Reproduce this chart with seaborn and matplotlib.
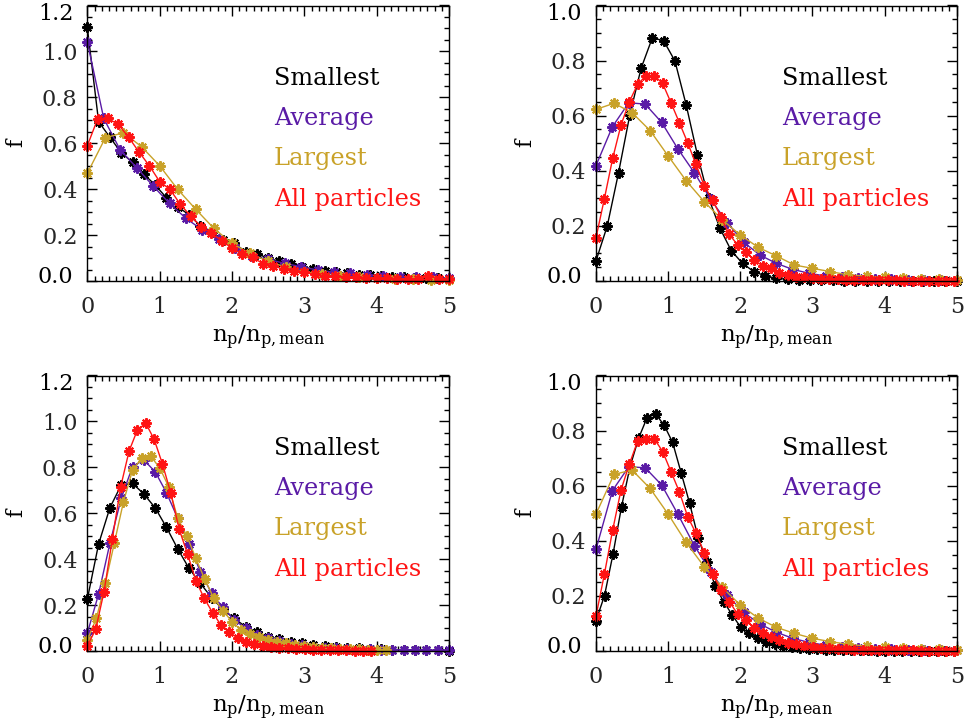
import numpy as np
import pandas as pd
import matplotlib
matplotlib.use("Agg")
import matplotlib.pyplot as plt
import matplotlib.transforms as mtransforms
import seaborn as sns
from matplotlib.ticker import MultipleLocator, FormatStrFormatter, FuncFormatter

sns.set_theme(style="ticks")
plt.rcParams["font.family"] = ["DejaVu Serif"]
plt.rcParams["mathtext.fontset"] = "dejavuserif"

series_names = ["Smallest", "Average", "Largest", "All particles"]
series_colors = ["#000000", "#5a1ba6", "#c9a229", "#ff1414"]

# ---- top-left panel ----
p1_dx = [0.15625, 0.2273, 0.25, 0.1429]
p1_smallest = [1.105, 0.694, 0.626, 0.559, 0.517, 0.466, 0.418, 0.363, 0.324, 0.288, 0.241,
               0.215, 0.179, 0.164, 0.128, 0.118, 0.100, 0.085, 0.074, 0.062, 0.052, 0.045,
               0.038, 0.033, 0.028, 0.025, 0.022, 0.018, 0.016, 0.014, 0.012, 0.011, 0.010]
p1_average = [1.042, 0.708, 0.571, 0.494, 0.414, 0.338, 0.273, 0.222, 0.181, 0.142, 0.109,
              0.094, 0.077, 0.062, 0.048, 0.038, 0.033, 0.026, 0.022, 0.019, 0.016, 0.016, 0.012]
p1_largest = [0.469, 0.624, 0.646, 0.585, 0.502, 0.399, 0.312, 0.229, 0.164, 0.120, 0.085,
              0.060, 0.040, 0.030, 0.020, 0.016, 0.012, 0.010, 0.007, 0.006, 0.005]
p1_all = [0.589, 0.706, 0.708, 0.682, 0.626, 0.562, 0.502, 0.433, 0.399, 0.334, 0.283, 0.237,
          0.208, 0.176, 0.142, 0.118, 0.103, 0.075, 0.066, 0.051, 0.044, 0.038, 0.029, 0.022,
          0.022, 0.019, 0.016, 0.015, 0.012, 0.012, 0.009, 0.007, 0.009, 0.022, 0.010, 0.008]

# ---- top-right panel ----
p2_dx = [0.15625, 0.2273, 0.25, 0.1155]
p2_smallest = [0.073, 0.200, 0.393, 0.603, 0.772, 0.883, 0.872, 0.799, 0.639, 0.457, 0.300,
               0.191, 0.110, 0.064, 0.034, 0.019, 0.010, 0.006, 0.004, 0.003, 0.002, 0.002,
               0.001, 0.001, 0.001, 0.001, 0.0, 0.0, 0.0, 0.0, 0.0, 0.0, 0.0]
p2_average = [0.419, 0.560, 0.647, 0.642, 0.576, 0.479, 0.393, 0.296, 0.212, 0.141, 0.094,
              0.064, 0.042, 0.028, 0.018, 0.013, 0.010, 0.008, 0.006, 0.005, 0.004, 0.003, 0.003]
p2_largest = [0.623, 0.645, 0.611, 0.546, 0.454, 0.364, 0.288, 0.222, 0.167, 0.122, 0.091,
              0.058, 0.046, 0.034, 0.022, 0.018, 0.013, 0.011, 0.009, 0.007, 0.005]
p2_all = [0.157, 0.298, 0.445, 0.566, 0.651, 0.714, 0.745, 0.745, 0.717, 0.647, 0.575, 0.502,
          0.423, 0.345, 0.294, 0.231, 0.169, 0.131, 0.104, 0.077, 0.054, 0.046, 0.030, 0.022,
          0.016, 0.013, 0.010, 0.008, 0.007, 0.006, 0.005, 0.004, 0.003, 0.003, 0.002, 0.002,
          0.002, 0.001, 0.001, 0.001, 0.001, 0.001, 0.0, 0.0]

# ---- bottom-left panel ----
p3_dx = [0.15625, 0.15625, 0.125, 0.1155]
p3_smallest = [0.225, 0.466, 0.624, 0.723, 0.730, 0.684, 0.624, 0.539, 0.445, 0.360, 0.295,
               0.232, 0.181, 0.142, 0.106, 0.081, 0.062, 0.052, 0.041, 0.033, 0.026, 0.023,
               0.019, 0.015, 0.012, 0.010, 0.008, 0.006, 0.005, 0.004, 0.003, 0.003, 0.002]
p3_average = [0.077, 0.248, 0.469, 0.665, 0.803, 0.832, 0.781, 0.690, 0.578, 0.466, 0.346,
              0.251, 0.190, 0.135, 0.099, 0.070, 0.055, 0.042, 0.032, 0.025, 0.019, 0.015,
              0.012, 0.010, 0.008, 0.007, 0.006, 0.005, 0.005, 0.004, 0.004, 0.003, 0.003]
p3_largest = [0.048, 0.142, 0.295, 0.472, 0.650, 0.788, 0.839, 0.849, 0.798, 0.716, 0.578,
              0.502, 0.404, 0.312, 0.229, 0.176, 0.128, 0.091, 0.075, 0.062, 0.050, 0.040,
              0.035, 0.028, 0.022, 0.018, 0.015, 0.012, 0.010, 0.008, 0.007, 0.006, 0.005, 0.004]
p3_all = [0.022, 0.094, 0.258, 0.488, 0.716, 0.871, 0.963, 0.992, 0.922, 0.814, 0.687, 0.530,
          0.422, 0.306, 0.229, 0.167, 0.113, 0.084, 0.055, 0.041, 0.029, 0.022, 0.018, 0.014,
          0.011, 0.009, 0.007, 0.006, 0.005, 0.004, 0.003, 0.003, 0.002, 0.002, 0.002]

# ---- bottom-right panel ----
p4_dx = [0.118, 0.2273, 0.25, 0.1155]
p4_smallest = [0.110, 0.201, 0.352, 0.524, 0.669, 0.772, 0.847, 0.860, 0.820, 0.757, 0.647,
               0.536, 0.411, 0.324, 0.236, 0.179, 0.131, 0.086, 0.064, 0.046, 0.034, 0.025,
               0.018, 0.014, 0.011, 0.008, 0.006, 0.005, 0.004, 0.003, 0.003, 0.002, 0.002,
               0.001, 0.001, 0.001, 0.001, 0.001, 0.0, 0.0, 0.0, 0.0, 0.0]
p4_average = [0.369, 0.582, 0.669, 0.665, 0.603, 0.496, 0.382, 0.288, 0.203, 0.140, 0.098,
              0.068, 0.046, 0.031, 0.021, 0.015, 0.011, 0.008, 0.006, 0.005, 0.004, 0.003, 0.003]
p4_largest = [0.497, 0.641, 0.657, 0.590, 0.497, 0.394, 0.306, 0.231, 0.167, 0.119, 0.086,
              0.064, 0.046, 0.034, 0.024, 0.018, 0.013, 0.010, 0.008, 0.006, 0.005]
p4_all = [0.127, 0.278, 0.439, 0.584, 0.678, 0.762, 0.770, 0.770, 0.724, 0.651, 0.578, 0.488,
          0.427, 0.357, 0.279, 0.221, 0.179, 0.134, 0.113, 0.082, 0.064, 0.052, 0.040, 0.030,
          0.024, 0.019, 0.015, 0.012, 0.010, 0.008, 0.006, 0.005, 0.004, 0.004, 0.003, 0.003,
          0.002, 0.002, 0.002, 0.001, 0.001, 0.001, 0.001, 0.001]

panels = [
    (p1_dx, [p1_smallest, p1_average, p1_largest, p1_all], 1.2),
    (p2_dx, [p2_smallest, p2_average, p2_largest, p2_all], 1.0),
    (p3_dx, [p3_smallest, p3_average, p3_largest, p3_all], 1.2),
    (p4_dx, [p4_smallest, p4_average, p4_largest, p4_all], 1.0),
]

W, H = 969, 724
fig = plt.figure(figsize=(W / 100, H / 100), dpi=100)
fig.patch.set_facecolor("white")

# axes boxes in pixels: left, top, right, bottom
boxes = [(87.3, 5.5, 449.0, 281.0), (596.0, 5.5, 956.7, 281.0),
         (87.3, 375.5, 449.0, 651.0), (596.0, 375.5, 956.7, 651.0)]

legend_y = [0.713, 0.567, 0.421, 0.272]
TICK_FS = 16

for (dx, ys, ymax), (l, t, r, b) in zip(panels, boxes):
    ax = fig.add_axes([l / W, 1 - b / H, (r - l) / W, (b - t) / H])
    ax.set_facecolor("white")
    for name, color, step, vals in zip(series_names, series_colors, dx, ys):
        df = pd.DataFrame({"x": step * np.arange(len(vals)), "f": vals})
        sns.lineplot(data=df, x="x", y="f", ax=ax, color=color, lw=1.0,
                     marker=(8, 2, 0), markersize=7.5, markeredgewidth=1.5,
                     markeredgecolor=color, markerfacecolor=color,
                     estimator=None, sort=False, legend=False, clip_on=False)
    ax.set_xlim(0, 5)
    ax.set_ylim(0, ymax)
    ax.xaxis.set_major_locator(MultipleLocator(1))
    ax.xaxis.set_minor_locator(MultipleLocator(0.1))
    ax.yaxis.set_major_locator(MultipleLocator(0.2))
    ax.yaxis.set_minor_locator(MultipleLocator(0.05))
    ax.xaxis.set_major_formatter(FormatStrFormatter("%d"))

    # end labels of the y axis are nudged inside the frame below
    def ylab(v, pos, top=ymax):
        if abs(v) < 1e-9 or abs(v - top) < 1e-9:
            return ""
        return f"{v:.1f}"
    ax.yaxis.set_major_formatter(FuncFormatter(ylab))

    ax.tick_params(which="both", direction="in", top=True, right=True,
                   width=1.0, color="black")
    ax.tick_params(which="major", length=7)
    ax.tick_params(which="minor", length=3.5)
    ax.tick_params(axis="x", which="major", labelsize=TICK_FS, pad=11)
    ax.tick_params(axis="y", which="major", labelsize=TICK_FS, pad=7)
    for s in ax.spines.values():
        s.set_color("black")
        s.set_linewidth(1.0)

    ax.text(0, 0, "0.0", transform=mtransforms.offset_copy(
        ax.transAxes, fig=fig, x=-14, y=4, units="dots"),
        ha="right", va="center", fontsize=TICK_FS, color="black")
    ax.text(0, 1, f"{ymax:.1f}", transform=mtransforms.offset_copy(
        ax.transAxes, fig=fig, x=-14, y=-9, units="dots"),
        ha="right", va="center", fontsize=TICK_FS, color="black")

    ax.set_xlabel(r"$\mathregular{n_p/n_{p,mean}}$", fontsize=16.5, color="black")
    ax.set_ylabel("f", fontsize=16, color="black")
    ax.xaxis.set_label_coords(0.5, -0.155)
    ax.yaxis.set_label_coords(-0.165, 0.5)
    for name, color, yy in zip(series_names, series_colors, legend_y):
        ax.text(0.516, yy, name, transform=ax.transAxes, color=color,
                fontsize=17.3, ha="left", va="baseline")

fig.savefig("out.png", dpi=100, facecolor="white")
